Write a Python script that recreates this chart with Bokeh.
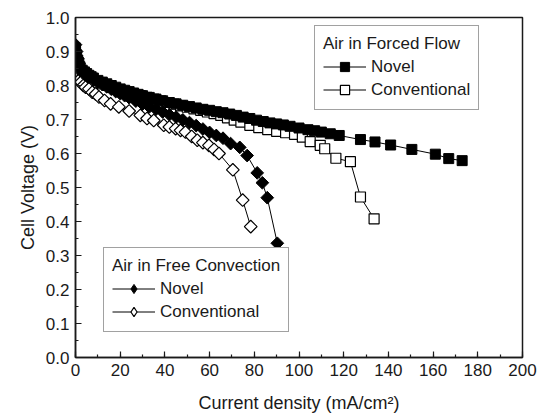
import math
from bokeh.plotting import figure
from bokeh.models import Legend, LegendItem, Range1d, SingleIntervalTicker, CustomJSTickFormatter
from bokeh.embed import file_html
from bokeh.resources import INLINE

# Air in Forced Flow - Novel (filled squares)
forced_novel_x = [0, 0.5, 1, 1.5, 2, 3, 4, 5, 6, 7, 8, 10, 12, 14, 16, 18, 20, 22, 24, 26, 28, 30,
                  33, 36, 39, 42, 45, 48, 51, 54, 57, 60, 63, 66, 69, 72, 75, 78, 81, 84, 87, 90,
                  93, 96, 100, 104, 107, 110, 114, 118, 127.5, 134, 141, 150.5, 161, 167, 173]
forced_novel_y = [0.91, 0.89, 0.875, 0.865, 0.855, 0.845, 0.84, 0.835, 0.83, 0.826, 0.822, 0.815,
                  0.81, 0.805, 0.80, 0.795, 0.79, 0.786, 0.782, 0.778, 0.774, 0.77, 0.765, 0.76,
                  0.755, 0.75, 0.746, 0.742, 0.738, 0.734, 0.73, 0.727, 0.723, 0.72, 0.716, 0.712,
                  0.707, 0.703, 0.698, 0.694, 0.69, 0.687, 0.684, 0.68, 0.675, 0.67, 0.667, 0.663,
                  0.658, 0.653, 0.641, 0.634, 0.625, 0.612, 0.598, 0.585, 0.579]

# Air in Forced Flow - Conventional (open squares)
forced_conv_x = [0, 0.5, 1, 2, 3, 4, 5, 6, 8, 10, 12, 14, 16, 18, 20, 23, 26, 29, 32, 35, 38, 41,
                 44, 47, 50, 53, 56, 59, 62, 65, 68, 71, 74, 78, 82, 86, 90, 94, 98, 101.5, 105,
                 109.5, 111.5, 116.5, 123, 127.5, 133.6]
forced_conv_y = [0.90, 0.87, 0.86, 0.85, 0.84, 0.835, 0.83, 0.825, 0.815, 0.81, 0.805, 0.80, 0.795,
                 0.79, 0.785, 0.78, 0.775, 0.77, 0.765, 0.76, 0.755, 0.75, 0.745, 0.74, 0.736,
                 0.731, 0.727, 0.722, 0.717, 0.712, 0.705, 0.698, 0.692, 0.683, 0.676, 0.67, 0.665,
                 0.661, 0.656, 0.648, 0.635, 0.624, 0.614, 0.586, 0.576, 0.472, 0.408]

# Air in Free Convection - Novel (filled diamonds)
free_novel_x = [0, 0.5, 1, 1.5, 2, 3, 4, 5, 6, 8, 10, 12, 14, 16, 18, 20, 22, 24, 27, 30, 33, 36,
                39, 42, 45, 48, 51, 54, 57, 60, 63, 66, 69.4, 73.5, 76.8, 81.3, 83.6, 85.8, 90.3]
free_novel_y = [0.92, 0.90, 0.88, 0.865, 0.855, 0.845, 0.838, 0.832, 0.826, 0.818, 0.81, 0.803,
                0.796, 0.789, 0.782, 0.776, 0.77, 0.764, 0.754, 0.745, 0.737, 0.73, 0.722, 0.714,
                0.707, 0.699, 0.691, 0.682, 0.672, 0.662, 0.653, 0.645, 0.629, 0.618, 0.594,
                0.543, 0.514, 0.470, 0.336]

# Air in Free Convection - Conventional (open diamonds)
free_conv_x = [0, 0.3, 0.7, 1.5, 2.5, 3.5, 4.5, 6, 7.5, 9, 10.5, 13, 15.7, 19.4, 24, 29, 32, 35,
               39.5, 42, 44.8, 47, 49.2, 52, 54.5, 57, 59.7, 62, 64.2, 70.4, 74.8, 78.4]
free_conv_y = [0.845, 0.83, 0.82, 0.815, 0.81, 0.80, 0.795, 0.79, 0.78, 0.775, 0.766, 0.756, 0.746,
               0.737, 0.725, 0.712, 0.703, 0.697, 0.683, 0.678, 0.673, 0.668, 0.663, 0.65, 0.639,
               0.632, 0.624, 0.612, 0.60, 0.552, 0.463, 0.385]

FONT = "Liberation Sans"
INK = "#1a1a1a"

p = figure(width=545, height=416, output_backend="svg", toolbar_location=None,
           x_range=Range1d(0, 200), y_range=Range1d(0, 1.0),
           min_border_left=75, min_border_right=23, min_border_top=17, min_border_bottom=59)

p.background_fill_color = "white"
p.border_fill_color = "white"
p.outline_line_color = INK
p.outline_line_width = 1.5
p.xgrid.visible = False
p.ygrid.visible = False

p.xaxis.ticker = SingleIntervalTicker(interval=20, num_minor_ticks=2)
p.yaxis.ticker = SingleIntervalTicker(interval=0.1, num_minor_ticks=2)
p.yaxis.formatter = CustomJSTickFormatter(code="return tick.toFixed(1);")

for ax in (p.xaxis[0], p.yaxis[0]):
    ax.axis_line_color = INK
    ax.axis_line_width = 1.5
    ax.major_tick_in = 6
    ax.major_tick_out = 0
    ax.minor_tick_in = 3
    ax.minor_tick_out = 0
    ax.major_tick_line_color = INK
    ax.minor_tick_line_color = INK
    ax.major_tick_line_width = 1.2
    ax.minor_tick_line_width = 1.2
    ax.major_label_text_font = FONT
    ax.major_label_text_font_size = "17px"
    ax.major_label_text_color = INK
    ax.axis_label_text_font = FONT
    ax.axis_label_text_font_size = "18px"
    ax.axis_label_text_font_style = "normal"
    ax.axis_label_text_color = INK

p.xaxis.axis_label = "Current density (mA/cm²)"
p.yaxis.axis_label = "Cell Voltage (V)"
p.xaxis.major_label_standoff = 6
p.yaxis.major_label_standoff = 6
p.xaxis.axis_label_standoff = 14
p.yaxis.axis_label_standoff = 5

ROT = math.pi / 4

fn_l = p.line(forced_novel_x, forced_novel_y, line_color="black", line_width=1)
fc_l = p.line(forced_conv_x, forced_conv_y, line_color="black", line_width=1)
rn_l = p.line(free_novel_x, free_novel_y, line_color="black", line_width=1)
rc_l = p.line(free_conv_x, free_conv_y, line_color="black", line_width=1)

fc_m = p.scatter(forced_conv_x, forced_conv_y, marker="square", size=10,
                 fill_color="white", line_color="black", line_width=1.2)
rc_m = p.scatter(free_conv_x, free_conv_y, marker="square", size=9, angle=ROT,
                 fill_color="white", line_color="black", line_width=1.2)
fn_m = p.scatter(forced_novel_x, forced_novel_y, marker="square", size=10,
                 fill_color="black", line_color="black", line_width=1)
rn_m = p.scatter(free_novel_x, free_novel_y, marker="square", size=9, angle=ROT,
                 fill_color="black", line_color="black", line_width=1)

# legend-only diamond samples (legend glyphs are drawn unrotated), hidden in the plot
rn_key = p.scatter(free_novel_x, free_novel_y, marker="diamond", fill_color="black",
                   line_color="black", line_width=1, visible=False)
rc_key = p.scatter(free_conv_x, free_conv_y, marker="diamond", fill_color="white",
                   line_color="black", line_width=1.2, visible=False)


def make_legend(title, items, loc):
    lg = Legend(items=items, location=loc, title=title, orientation="vertical")
    lg.title_text_font = FONT
    lg.title_text_font_size = "17px"
    lg.title_text_font_style = "normal"
    lg.title_text_color = INK
    lg.title_standoff = 1
    lg.label_text_font = FONT
    lg.label_text_font_size = "17px"
    lg.label_text_color = INK
    lg.glyph_width = 43
    lg.glyph_height = 23
    lg.label_height = 23
    lg.label_standoff = 5
    lg.spacing = 0
    lg.padding = 8
    lg.margin = 0
    lg.inactive_fill_alpha = 0
    lg.border_line_color = "#444444"
    lg.border_line_width = 1
    lg.background_fill_alpha = 1
    return lg


forced_legend = make_legend("Air in Forced Flow", [
    LegendItem(label="Novel", renderers=[fn_l, fn_m]),
    LegendItem(label="Conventional", renderers=[fc_l, fc_m]),
], (239, 247))
free_legend = make_legend("Air in Free Convection", [
    LegendItem(label="Novel", renderers=[rn_l, rn_key]),
    LegendItem(label="Conventional", renderers=[rc_l, rc_key]),
], (28, 25))

p.add_layout(forced_legend, "center")
p.add_layout(free_legend, "center")

open("out.html", "w").write(file_html(p, INLINE))
